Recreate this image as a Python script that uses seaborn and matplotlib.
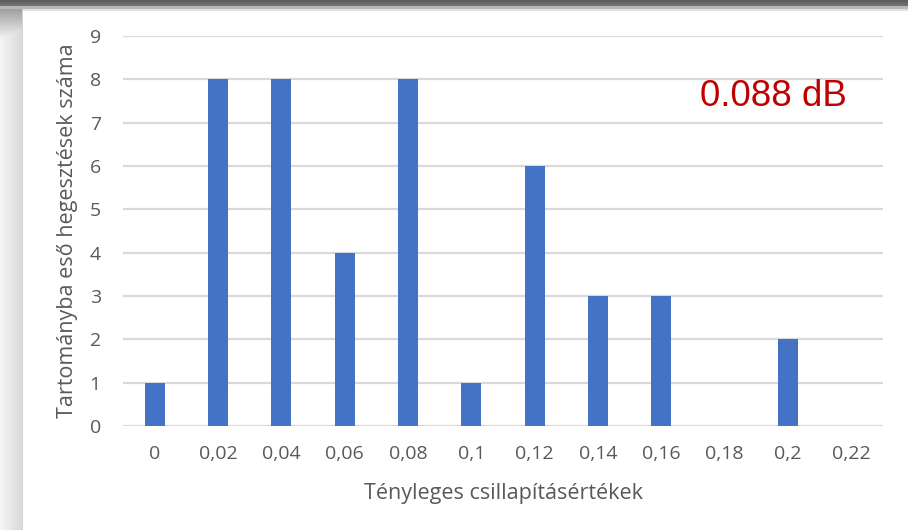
import matplotlib
matplotlib.use("Agg")
import matplotlib.pyplot as plt
import numpy as np
import pandas as pd
import seaborn as sns

# Data
categories = ["0", "0,02", "0,04", "0,06", "0,08", "0,1", "0,12", "0,14", "0,16", "0,18", "0,2", "0,22"]
counts = [1, 8, 8, 4, 8, 1, 6, 3, 3, 0, 2, 0]
annotation = "0.088 dB"

df = pd.DataFrame({"value": categories, "count": counts})

sns.set_style("white")
plt.rcParams["font.family"] = ["Open Sans", "DejaVu Sans"]

fig = plt.figure(figsize=(9.08, 5.30), dpi=100)

# slide-like frame: dark band at top, grey gradient on the left
W, H = 908, 530
bg = np.ones((H, W, 3))
left = np.linspace(0.96, 0.85, 23)
bg[:, :23, :] = left[None, :, None]
fade = np.linspace(0.55, 1.0, 40)
for i in range(40):
    bg[i, :23, :] = np.minimum(bg[i, :23, :], fade[i] * 0.96)
bg[:6, :, :] = np.linspace(0.36, 0.45, 6)[:, None, None]
bg[6:9, :, :] = 0.72
bg[9:11, 23:, :] = 0.88
bg[9:, 22, :] = 0.82
fig.figimage(bg, 0, 0, origin="upper", zorder=-10)

ax = fig.add_axes([123 / 908, 1 - 426 / 530, 760 / 908, 390 / 530])
ax.set_zorder(5)
ax.patch.set_alpha(0)

sns.barplot(data=df, x="value", y="count", color="#4472C4", saturation=1,
            width=0.32, linewidth=0, ax=ax, zorder=3)

ax.set_ylim(0, 9)
ax.set_xlim(-0.5, len(categories) - 0.5)
ax.set_yticks(range(0, 10))
ax.yaxis.grid(True, color="#d9d9d9", linewidth=1.6, zorder=0)
ax.set_axisbelow(True)
for s in ax.spines.values():
    s.set_visible(False)
ax.tick_params(axis="both", length=0, labelsize=14, labelcolor="#595959")
ax.tick_params(axis="x", pad=14)
ax.tick_params(axis="y", pad=16)

ax.set_xlabel("Tényleges csillapításértékek", fontsize=15.5, color="#595959", labelpad=14)
ax.set_ylabel("Tartományba eső hegesztések száma", fontsize=15.5, color="#595959", labelpad=8)

ax.text(0.952, 0.845, annotation, transform=ax.transAxes, ha="right", va="center",
        fontsize=26.5, color="#C00000", family=["Liberation Sans", "DejaVu Sans"])

fig.savefig("out.png", dpi=100)
